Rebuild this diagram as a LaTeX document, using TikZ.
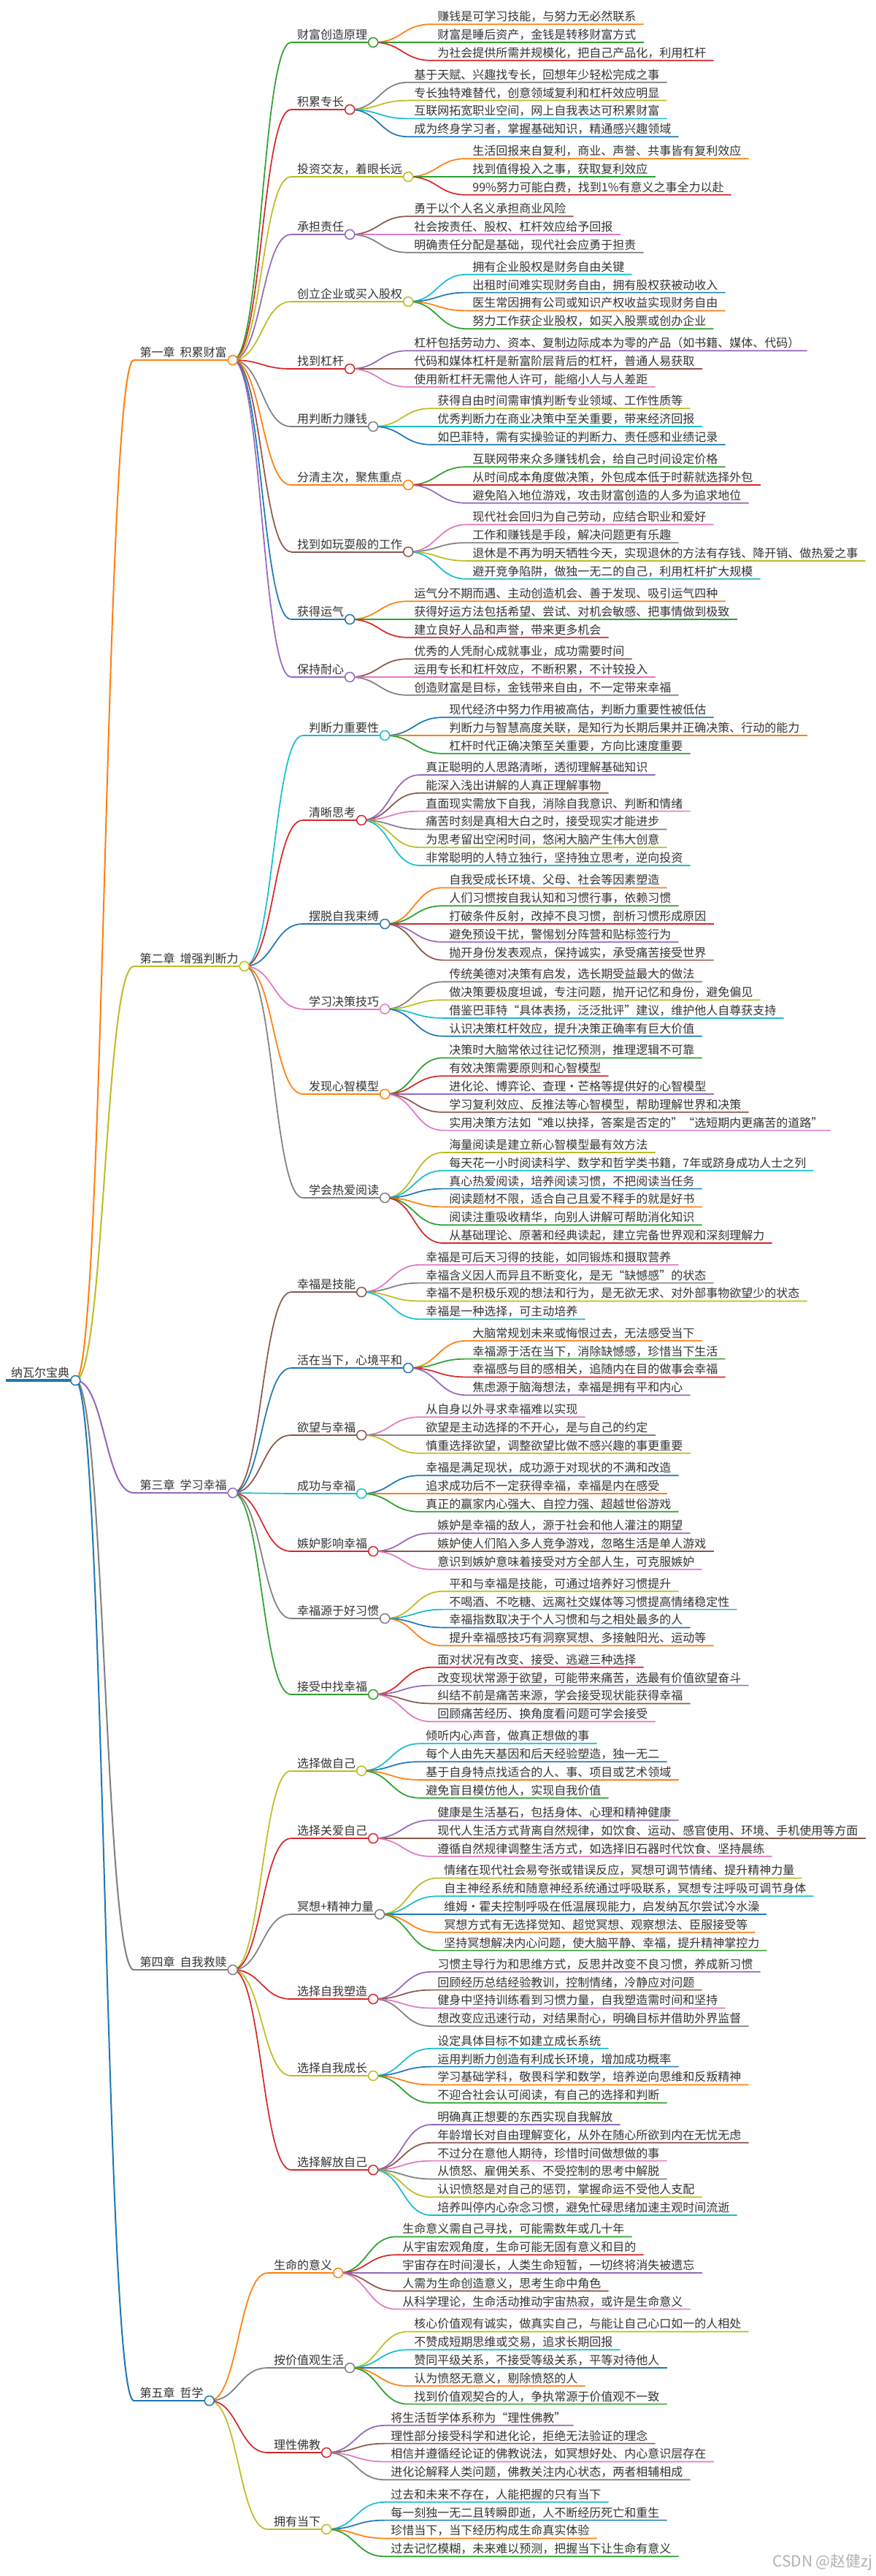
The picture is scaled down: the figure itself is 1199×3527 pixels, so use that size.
\documentclass[tikz,border=0pt]{standalone}
\usepackage{fontspec}
\setmainfont{Noto Sans CJK SC}
\usetikzlibrary{calc}
\pgfdeclarelayer{fg}
\pgfsetlayers{main,fg}
\definecolor{cB}{HTML}{1F77B4}
\definecolor{cO}{HTML}{FF7F0E}
\definecolor{cG}{HTML}{2CA02C}
\definecolor{cR}{HTML}{D62728}
\definecolor{cP}{HTML}{9467BD}
\definecolor{cN}{HTML}{8C564B}
\definecolor{cK}{HTML}{E377C2}
\definecolor{cA}{HTML}{7F7F7F}
\definecolor{cY}{HTML}{BCBD22}
\definecolor{cC}{HTML}{17BECF}
\definecolor{txtc}{HTML}{333333}
\newcommand\mmfont{\fontsize{16}{18}\selectfont\spaceskip 7pt\relax}
\newcommand\mmwmfont{\fontsize{21}{24}\selectfont}
\tikzset{
  mmtxt/.style={inner sep=0pt, text=txtc, font=\mmfont},
  mmdot/.style={fill=white, line width=1.5pt},
}
% #1 parent, #2 name, #3 y(px), #4 colour, #5 text, #6 underline width, #7 link width
\newcommand\mmInner[7]{%
  \coordinate (#2-y) at (0,-#3);
  \coordinate[xshift=80pt] (#2-l) at (#1-c |- #2-y);
  \coordinate[xshift=40pt] (#2-ka) at (#1-c);
  \coordinate[xshift=40pt] (#2-kb) at (#1-c |- #2-y);
  \node[mmtxt, anchor=base west, xshift=8pt, yshift=4.5pt] (#2) at (#2-l) {#5};
  \coordinate[xshift=8pt, yshift=-4.5pt] (#2-c) at (#2.base east);
  \draw[color=#4, line width=#7] (#1-c) .. controls (#2-ka) and (#2-kb) .. (#2-l);
  \draw[color=#4, line width=#6] (#2-l) -- (#2-c);
  \begin{pgfonlayer}{fg}
    \draw[color=#4, mmdot] (#2-c) circle (6.5pt);
  \end{pgfonlayer}
}
% #1 parent, #2 count, #3 list colour/text
\newcommand\mmLeaves[3]{%
  \foreach \mlc/\mlt [count=\mli] in {#3} {
    \pgfmathsetmacro\mlyy{-(\mli-(#2+1)/2)*24.8}
    \coordinate[yshift=\mlyy pt] (#1-\mli-y) at (#1-c);
    \coordinate[xshift=80pt] (#1-\mli-l) at (#1-c |- #1-\mli-y);
    \coordinate[xshift=40pt] (#1-\mli-ka) at (#1-c);
    \coordinate[xshift=40pt] (#1-\mli-kb) at (#1-c |- #1-\mli-y);
    \node[mmtxt, anchor=base west, xshift=8pt, yshift=4.5pt] (#1-\mli) at (#1-\mli-l) {\mlt};
    \coordinate[xshift=10pt, yshift=-4.5pt] (#1-\mli-e) at (#1-\mli.base east);
    \draw[color=\mlc, line width=1.7pt] (#1-c) .. controls (#1-\mli-ka) and (#1-\mli-kb) .. (#1-\mli-l) -- (#1-\mli-e);
  }
}
\begin{document}
\begin{tikzpicture}[x=1pt,y=1pt]
\fill[white] (0,0) rectangle (1199,-3527);
\useasboundingbox (0,0) rectangle (1199,-3527);
% root
\coordinate (R-l) at (8,-1890);
\node[mmtxt, anchor=base west, xshift=7pt, yshift=4.5pt] (R) at (R-l) {纳瓦尔宝典};
\coordinate[xshift=8pt, yshift=-4.5pt] (R-c) at (R.base east);
\draw[color=cB, line width=4.5pt] (R-l) -- (R-c);
% chapters
\mmInner{R}{C1}{493}{cO}{第一章 积累财富}{2.5pt}{2pt}
\mmInner{R}{C2}{1323}{cY}{第二章 增强判断力}{2.5pt}{2pt}
\mmInner{R}{C3}{2044}{cP}{第三章 学习幸福}{2.5pt}{2pt}
\mmInner{R}{C4}{2697}{cA}{第四章 自我救赎}{2.5pt}{2pt}
\mmInner{R}{C5}{3287}{cB}{第五章 哲学}{2.5pt}{2pt}
\begin{pgfonlayer}{fg}
  \draw[color=cB, mmdot] (R-c) circle (6.5pt);
\end{pgfonlayer}
% ---------- chapter 1
\mmInner{C1}{A1}{58}{cG}{财富创造原理}{2pt}{1.7pt}
\mmLeaves{A1}{3}{cO/赚钱是可学习技能，与努力无必然联系, cG/财富是睡后资产，金钱是转移财富方式, cR/为社会提供所需并规模化，把自己产品化，利用杠杆}
\mmInner{C1}{A2}{150}{cR}{积累专长}{2pt}{1.7pt}
\mmLeaves{A2}{4}{cA/基于天赋、兴趣找专长，回想年少轻松完成之事, cY/专长独特难替代，创意领域复利和杠杆效应明显, cC/互联网拓宽职业空间，网上自我表达可积累财富, cB/成为终身学习者，掌握基础知识，精通感兴趣领域}
\mmInner{C1}{A3}{242}{cY}{投资交友，着眼长远}{2pt}{1.7pt}
\mmLeaves{A3}{3}{cO/生活回报来自复利，商业、声誉、共事皆有复利效应, cG/找到值得投入之事，获取复利效应, cR/99\%努力可能白费，找到1\%有意义之事全力以赴}
\mmInner{C1}{A4}{321}{cP}{承担责任}{2pt}{1.7pt}
\mmLeaves{A4}{3}{cN/勇于以个人名义承担商业风险, cK/社会按责任、股权、杠杆效应给予回报, cA/明确责任分配是基础，现代社会应勇于担责}
\mmInner{C1}{A5}{413}{cY}{创立企业或买入股权}{2pt}{1.7pt}
\mmLeaves{A5}{4}{cC/拥有企业股权是财务自由关键, cB/出租时间难实现财务自由，拥有股权获被动收入, cO/医生常因拥有公司或知识产权收益实现财务自由, cG/努力工作获企业股权，如买入股票或创办企业}
\mmInner{C1}{A6}{505}{cR}{找到杠杆}{2pt}{1.7pt}
\mmLeaves{A6}{3}{cP/杠杆包括劳动力、资本、复制边际成本为零的产品（如书籍、媒体、代码）, cN/代码和媒体杠杆是新富阶层背后的杠杆，普通人易获取, cK/使用新杠杆无需他人许可，能缩小人与人差距}
\mmInner{C1}{A7}{584}{cA}{用判断力赚钱}{2pt}{1.7pt}
\mmLeaves{A7}{3}{cY/获得自由时间需审慎判断专业领域、工作性质等, cC/优秀判断力在商业决策中至关重要，带来经济回报, cB/如巴菲特，需有实操验证的判断力、责任感和业绩记录}
\mmInner{C1}{A8}{664}{cO}{分清主次，聚焦重点}{2pt}{1.7pt}
\mmLeaves{A8}{3}{cG/互联网带来众多赚钱机会，给自己时间设定价格, cR/从时间成本角度做决策，外包成本低于时薪就选择外包, cP/避免陷入地位游戏，攻击财富创造的人多为追求地位}
\mmInner{C1}{A9}{755.5}{cN}{找到如玩耍般的工作}{2pt}{1.7pt}
\mmLeaves{A9}{4}{cK/现代社会回归为自己劳动，应结合职业和爱好, cA/工作和赚钱是手段，解决问题更有乐趣, cY/退休是不再为明天牺牲今天，实现退休的方法有存钱、降开销、做热爱之事, cC/避开竞争陷阱，做独一无二的自己，利用杠杆扩大规模}
\mmInner{C1}{A10}{848}{cB}{获得运气}{2pt}{1.7pt}
\mmLeaves{A10}{3}{cO/运气分不期而遇、主动创造机会、善于发现、吸引运气四种, cG/获得好运方法包括希望、尝试、对机会敏感、把事情做到极致, cR/建立良好人品和声誉，带来更多机会}
\mmInner{C1}{A11}{927}{cP}{保持耐心}{2pt}{1.7pt}
\mmLeaves{A11}{3}{cN/优秀的人凭耐心成就事业，成功需要时间, cK/运用专长和杠杆效应，不断积累，不计较投入, cA/创造财富是目标，金钱带来自由，不一定带来幸福}
% ---------- chapter 2
\mmInner{C2}{B1}{1007}{cC}{判断力重要性}{2pt}{1.7pt}
\mmLeaves{B1}{3}{cB/现代经济中努力作用被高估，判断力重要性被低估, cO/判断力与智慧高度关联，是知行为长期后果并正确决策、行动的能力, cG/杠杆时代正确决策至关重要，方向比速度重要}
\mmInner{C2}{B2}{1123}{cR}{清晰思考}{2pt}{1.7pt}
\mmLeaves{B2}{6}{cP/真正聪明的人思路清晰，透彻理解基础知识, cN/能深入浅出讲解的人真正理解事物, cK/直面现实需放下自我，消除自我意识、判断和情绪, cA/痛苦时刻是真相大白之时，接受现实才能进步, cY/为思考留出空闲时间，悠闲大脑产生伟大创意, cC/非常聪明的人特立独行，坚持独立思考，逆向投资}
\mmInner{C2}{B3}{1265}{cB}{摆脱自我束缚}{2pt}{1.7pt}
\mmLeaves{B3}{5}{cO/自我受成长环境、父母、社会等因素塑造, cG/人们习惯按自我认知和习惯行事，依赖习惯, cR/打破条件反射，改掉不良习惯，剖析习惯形成原因, cP/避免预设干扰，警惕划分阵营和贴标签行为, cN/抛开身份发表观点，保持诚实，承受痛苦接受世界}
\mmInner{C2}{B4}{1381.5}{cK}{学习决策技巧}{2pt}{1.7pt}
\mmLeaves{B4}{4}{cA/传统美德对决策有启发，选长期受益最大的做法, cY/做决策要极度坦诚，专注问题，抛开记忆和身份，避免偏见, cC/借鉴巴菲特“具体表扬，泛泛批评”建议，维护他人自尊获支持, cB/认识决策杠杆效应，提升决策正确率有巨大价值}
\mmInner{C2}{B5}{1498}{cO}{发现心智模型}{2pt}{1.7pt}
\mmLeaves{B5}{5}{cG/决策时大脑常依过往记忆预测，推理逻辑不可靠, cR/有效决策需要原则和心智模型, cP/进化论、博弈论、查理·芒格等提供好的心智模型, cN/学习复利效应、反推法等心智模型，帮助理解世界和决策, cK/实用决策方法如“难以抉择，答案是否定的”“选短期内更痛苦的道路”}
\mmInner{C2}{B6}{1640}{cA}{学会热爱阅读}{2pt}{1.7pt}
\mmLeaves{B6}{6}{cY/海量阅读是建立新心智模型最有效方法, cC/每天花一小时阅读科学、数学和哲学类书籍，7年或跻身成功人士之列, cB/真心热爱阅读，培养阅读习惯，不把阅读当任务, cO/阅读题材不限，适合自己且爱不释手的就是好书, cG/阅读注重吸收精华，向别人讲解可帮助消化知识, cR/从基础理论、原著和经典读起，建立完备世界观和深刻理解力}
% ---------- chapter 3
\mmInner{C3}{D1}{1769}{cN}{幸福是技能}{2pt}{1.7pt}
\mmLeaves{D1}{4}{cK/幸福是可后天习得的技能，如同锻炼和摄取营养, cA/幸福含义因人而异且不断变化，是无“缺憾感”的状态, cY/幸福不是积极乐观的想法和行为，是无欲无求、对外部事物欲望少的状态, cC/幸福是一种选择，可主动培养}
\mmInner{C3}{D2}{1873}{cB}{活在当下，心境平和}{2pt}{1.7pt}
\mmLeaves{D2}{4}{cO/大脑常规划未来或悔恨过去，无法感受当下, cG/幸福源于活在当下，消除缺憾感，珍惜当下生活, cR/幸福感与目的感相关，追随内在目的做事会幸福, cP/焦虑源于脑海想法，幸福是拥有平和内心}
\mmInner{C3}{D3}{1965}{cN}{欲望与幸福}{2pt}{1.7pt}
\mmLeaves{D3}{3}{cK/从自身以外寻求幸福难以实现, cA/欲望是主动选择的不开心，是与自己的约定, cY/慎重选择欲望，调整欲望比做不感兴趣的事更重要}
\mmInner{C3}{D4}{2045}{cC}{成功与幸福}{2pt}{1.7pt}
\mmLeaves{D4}{3}{cB/幸福是满足现状，成功源于对现状的不满和改造, cO/追求成功后不一定获得幸福，幸福是内在感受, cG/真正的赢家内心强大、自控力强、超越世俗游戏}
\mmInner{C3}{D5}{2124}{cR}{嫉妒影响幸福}{2pt}{1.7pt}
\mmLeaves{D5}{3}{cP/嫉妒是幸福的敌人，源于社会和他人灌注的期望, cN/嫉妒使人们陷入多人竞争游戏，忽略生活是单人游戏, cK/意识到嫉妒意味着接受对方全部人生，可克服嫉妒}
\mmInner{C3}{D6}{2216}{cA}{幸福源于好习惯}{2pt}{1.7pt}
\mmLeaves{D6}{4}{cY/平和与幸福是技能，可通过培养好习惯提升, cC/不喝酒、不吃糖、远离社交媒体等习惯提高情绪稳定性, cB/幸福指数取决于个人习惯和与之相处最多的人, cO/提升幸福感技巧有洞察冥想、多接触阳光、运动等}
\mmInner{C3}{D7}{2320}{cG}{接受中找幸福}{2pt}{1.7pt}
\mmLeaves{D7}{4}{cR/面对状况有改变、接受、逃避三种选择, cP/改变现状常源于欲望，可能带来痛苦，选最有价值欲望奋斗, cN/纠结不前是痛苦来源，学会接受现状能获得幸福, cK/回顾痛苦经历、换角度看问题可学会接受}
% ---------- chapter 4
\mmInner{C4}{E1}{2424.5}{cY}{选择做自己}{2pt}{1.7pt}
\mmLeaves{E1}{4}{cC/倾听内心声音，做真正想做的事, cB/每个人由先天基因和后天经验塑造，独一无二, cO/基于自身特点找适合的人、事、项目或艺术领域, cG/避免盲目模仿他人，实现自我价值}
\mmInner{C4}{E2}{2517}{cR}{选择关爱自己}{2pt}{1.7pt}
\mmLeaves{E2}{3}{cP/健康是生活基石，包括身体、心理和精神健康, cN/现代人生活方式背离自然规律，如饮食、运动、感官使用、环境、手机使用等方面, cK/遵循自然规律调整生活方式，如选择旧石器时代饮食、坚持晨练}
\mmInner{C4}{E3}{2621}{cA}{冥想+精神力量}{2pt}{1.7pt}
\mmLeaves{E3}{5}{cY/情绪在现代社会易夸张或错误反应，冥想可调节情绪、提升精神力量, cC/自主神经系统和随意神经系统通过呼吸联系，冥想专注呼吸可调节身体, cB/维姆·霍夫控制呼吸在低温展现能力，启发纳瓦尔尝试冷水澡, cO/冥想方式有无选择觉知、超觉冥想、观察想法、臣服接受等, cG/坚持冥想解决内心问题，使大脑平静、幸福，提升精神掌控力}
\mmInner{C4}{E4}{2737}{cR}{选择自我塑造}{2pt}{1.7pt}
\mmLeaves{E4}{4}{cP/习惯主导行为和思维方式，反思并改变不良习惯，养成新习惯, cN/回顾经历总结经验教训，控制情绪，冷静应对问题, cK/健身中坚持训练看到习惯力量，自我塑造需时间和坚持, cA/想改变应迅速行动，对结果耐心，明确目标并借助外界监督}
\mmInner{C4}{E5}{2842}{cY}{选择自我成长}{2pt}{1.7pt}
\mmLeaves{E5}{4}{cC/设定具体目标不如建立成长系统, cB/运用判断力创造有利成长环境，增加成功概率, cO/学习基础学科，敬畏科学和数学，培养逆向思维和反叛精神, cG/不迎合社会认可阅读，有自己的选择和判断}
\mmInner{C4}{E6}{2971}{cR}{选择解放自己}{2pt}{1.7pt}
\mmLeaves{E6}{6}{cP/明确真正想要的东西实现自我解放, cN/年龄增长对自由理解变化，从外在随心所欲到内在无忧无虑, cK/不过分在意他人期待，珍惜时间做想做的事, cA/从愤怒、雇佣关系、不受控制的思考中解脱, cY/认识愤怒是对自己的惩罚，掌握命运不受他人支配, cC/培养叫停内心杂念习惯，避免忙碌思绪加速主观时间流逝}
% ---------- chapter 5
\mmInner{C5}{F1}{3112}{cO}{生命的意义}{2pt}{1.7pt}
\mmLeaves{F1}{5}{cG/生命意义需自己寻找，可能需数年或几十年, cR/从宇宙宏观角度，生命可能无固有意义和目的, cP/宇宙存在时间漫长，人类生命短暂，一切终将消失被遗忘, cN/人需为生命创造意义，思考生命中角色, cK/从科学理论，生命活动推动宇宙热寂，或许是生命意义}
\mmInner{C5}{F2}{3242}{cA}{按价值观生活}{2pt}{1.7pt}
\mmLeaves{F2}{5}{cY/核心价值观有诚实，做真实自己，与能让自己心口如一的人相处, cC/不赞成短期思维或交易，追求长期回报, cB/赞同平级关系，不接受等级关系，平等对待他人, cO/认为愤怒无意义，剔除愤怒的人, cG/找到价值观契合的人，争执常源于价值观不一致}
\mmInner{C5}{F3}{3358}{cR}{理性佛教}{2pt}{1.7pt}
\mmLeaves{F3}{4}{cP/将生活哲学体系称为“理性佛教”, cN/理性部分接受科学和进化论，拒绝无法验证的理念, cK/相信并遵循经论证的佛教说法，如冥想好处、内心意识层存在, cA/进化论解释人类问题，佛教关注内心状态，两者相辅相成}
\mmInner{C5}{F4}{3463}{cY}{拥有当下}{2pt}{1.7pt}
\mmLeaves{F4}{4}{cC/过去和未来不存在，人能把握的只有当下, cB/每一刻独一无二且转瞬即逝，人不断经历死亡和重生, cO/珍惜当下，当下经历构成生命真实体验, cG/过去记忆模糊，未来难以预测，把握当下让生命有意义}
% watermark
\node[inner sep=0pt, anchor=base west, text=black!30, font=\mmwmfont] (wm) at (1058,-3514) {CSDN @赵健zj};
\end{tikzpicture}
\end{document}
